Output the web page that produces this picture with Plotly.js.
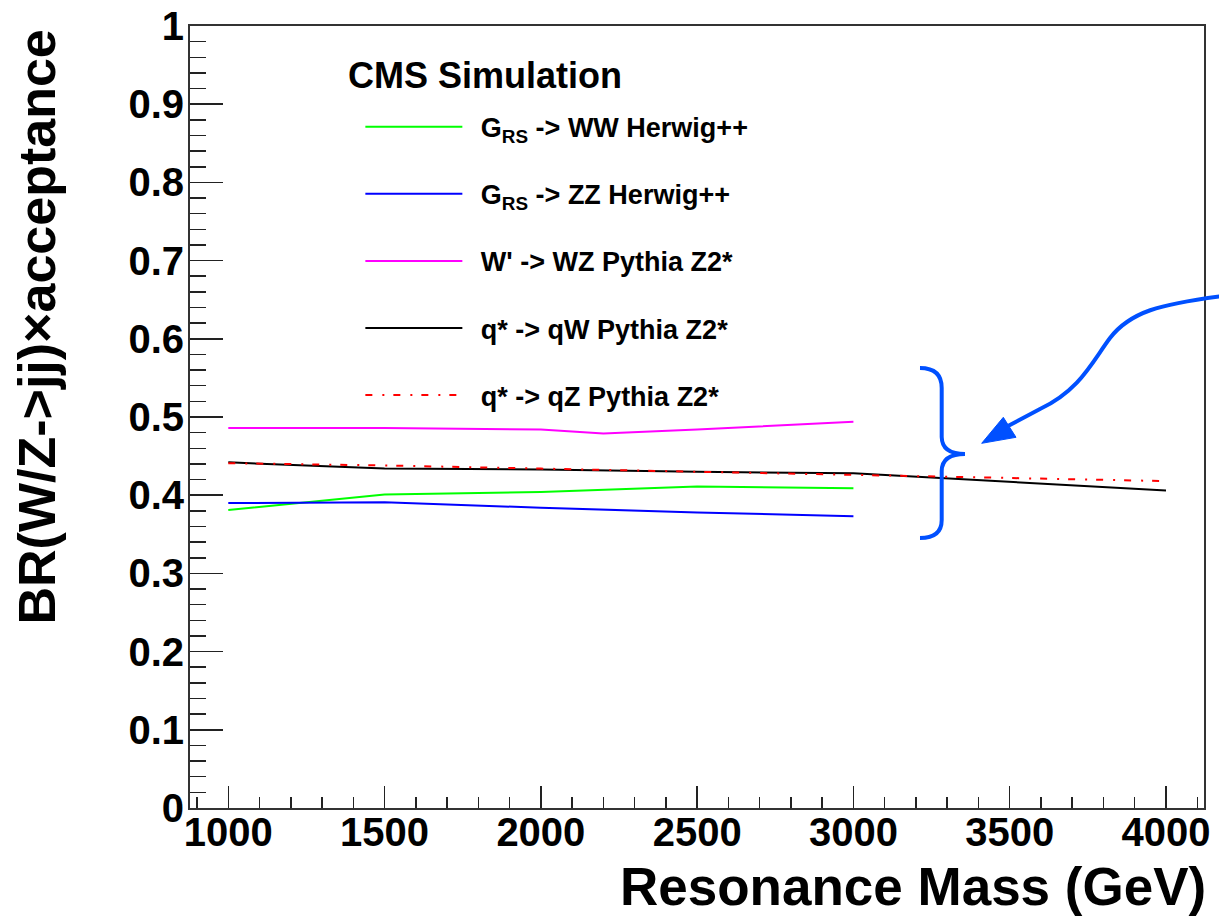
<!DOCTYPE html>
<html>
<head>
<meta charset="utf-8">
<script src="https://cdn.plot.ly/plotly-3.0.1.min.js"></script>
<style>
  html, body { margin: 0; padding: 0; background: #fff; }
  #chart { width: 1219px; height: 921px; }
</style>
</head>
<body>
<div id="chart"></div>
<script>
// Resonance masses (GeV)
const massLow = [1000, 1500, 2000, 2500, 3000];
const massWprime = [1000, 1500, 2000, 2200, 2500, 3000];
const massQstar = [1000, 1500, 2000, 2500, 3000, 4000];

// BR(W/Z->jj) x acceptance for each signal sample
const accGravWW = [0.381, 0.401, 0.404, 0.411, 0.409];
const accGravZZ = [0.390, 0.391, 0.384, 0.378, 0.373];
const accWprimeWZ = [0.486, 0.486, 0.484, 0.479, 0.484, 0.494];
const accQstarQW = [0.442, 0.434, 0.433, 0.430, 0.428, 0.406];
const accQstarQZ = [0.441, 0.438, 0.434, 0.430, 0.426, 0.418];

// Legend labels (leading en space separates the text from the line sample)
const labelGravWW = '\u2002G<sub>RS</sub> -&gt; WW Herwig++';
const labelGravZZ = '\u2002G<sub>RS</sub> -&gt; ZZ Herwig++';
const labelWprime = "\u2002W' -&gt; WZ Pythia Z2*";
const labelQstarQW = '\u2002q* -&gt; qW Pythia Z2*';
const labelQstarQZ = '\u2002q* -&gt; qZ Pythia Z2*';

const FONT = 'Liberation Sans, Arial, Helvetica, sans-serif';

function series(x, y, name, color, dash, group) {
  return {
    type: 'scatter', mode: 'lines', x: x, y: y, name: name,
    legendgroup: group,
    line: { color: color, width: 2, dash: dash || 'solid' },
    hoverinfo: 'x+y+name'
  };
}

const traces = [
  series(massLow, accGravWW, labelGravWW, '#00ff00', null, 'g1'),
  series(massLow, accGravZZ, labelGravZZ, '#0000ff', null, 'g2'),
  series(massWprime, accWprimeWZ, labelWprime, '#ff00ff', null, 'g3'),
  series(massQstar, accQstarQW, labelQstarQW, '#000000', null, 'g4'),
  series(massQstar, accQstarQZ, labelQstarQZ, '#ff0000', '7px,10px,2px,9px', 'g5')
];

// Plot frame in page pixels, used to place the hand-drawn brace and arrow
const frame = { left: 190, right: 1204, top: 26, bottom: 808 };
function px(x) { return ((x - frame.left) / (frame.right - frame.left)).toFixed(5); }
function py(y) { return ((frame.bottom - y) / (frame.bottom - frame.top)).toFixed(5); }
function pt(x, y) { return px(x) + ',' + py(y); }

const braceColor = '#0050ff';
const bracePath =
  'M' + pt(920, 368) +
  ' Q' + pt(941.7, 368) + ' ' + pt(941.7, 388) +
  ' L' + pt(941.7, 437) +
  ' Q' + pt(942, 454) + ' ' + pt(965, 454) +
  ' Q' + pt(942, 454) + ' ' + pt(941.7, 471) +
  ' L' + pt(941.7, 520) +
  ' Q' + pt(941.7, 538) + ' ' + pt(920, 538);

const arrowPath =
  'M' + pt(1222, 296) +
  ' C' + pt(1160, 304) + ' ' + pt(1130, 312) + ' ' + pt(1110, 338) +
  ' C' + pt(1092, 362) + ' ' + pt(1080, 390) + ' ' + pt(1040, 409) +
  ' L' + pt(1008, 426);

const arrowHead =
  'M' + pt(981.7, 443.3) + ' L' + pt(1003.3, 417.3) + ' L' + pt(1016, 437.3) + ' Z';

const tickFont = { family: FONT, size: 40, color: '#000', weight: 'bold' };

const layout = {
  width: 1219, height: 921,
  margin: { l: frame.left, r: 1219 - frame.right, t: frame.top, b: 921 - frame.bottom, pad: 0 },
  paper_bgcolor: '#fff', plot_bgcolor: '#fff',
  font: { family: FONT, color: '#000' },
  showlegend: true,
  legend: {
    x: 0.168, y: 0.902, xanchor: 'left', yanchor: 'top',
    bgcolor: 'rgba(0,0,0,0)', borderwidth: 0,
    font: { family: FONT, size: 27, color: '#000', weight: 'bold' },
    itemwidth: 97, tracegroupgap: 29, traceorder: 'grouped'
  },
  xaxis: {
    range: [877.5, 4121.6],
    tick0: 1000, dtick: 500,
    ticks: 'inside', ticklen: 22, tickwidth: 1.5, tickcolor: '#222',
    minor: { tick0: 1000, dtick: 100, ticks: 'inside', ticklen: 11, tickwidth: 1.5, tickcolor: '#222' },
    showline: true, linecolor: '#333', linewidth: 2, mirror: true,
    showgrid: false, zeroline: false,
    tickfont: tickFont, ticklabelstandoff: -12
  },
  yaxis: {
    range: [0, 1],
    tick0: 0, dtick: 0.1,
    ticks: 'inside', ticklen: 33, tickwidth: 1.5, tickcolor: '#222',
    minor: { tick0: 0, dtick: 0.02, ticks: 'inside', ticklen: 16, tickwidth: 1.5, tickcolor: '#222' },
    showline: true, linecolor: '#333', linewidth: 2, mirror: true,
    showgrid: false, zeroline: false,
    tickfont: tickFont, ticklabelstandoff: -4
  },
  annotations: [
    {
      text: 'CMS Simulation', xref: 'paper', yref: 'paper',
      x: px(346), y: py(75), xanchor: 'left', yanchor: 'middle', showarrow: false,
      font: { family: FONT, size: 36, color: '#000', weight: 'bold' }
    },
    {
      text: 'Resonance Mass (GeV)', xref: 'paper', yref: 'paper',
      x: px(1208), y: py(855), xanchor: 'right', yanchor: 'top', showarrow: false,
      font: { family: FONT, size: 53, color: '#000', weight: 'bold' }
    },
    {
      text: 'BR(W/Z-&gt;jj)×acceptance', xref: 'paper', yref: 'paper', textangle: -90,
      x: px(36), y: py(28), xanchor: 'center', yanchor: 'top', showarrow: false,
      font: { family: FONT, size: 52, color: '#000', weight: 'bold' }
    }
  ],
  shapes: [
    { type: 'path', xref: 'paper', yref: 'paper', path: bracePath,
      line: { color: braceColor, width: 4 }, fillcolor: 'rgba(0,0,0,0)' },
    { type: 'path', xref: 'paper', yref: 'paper', path: arrowPath,
      line: { color: braceColor, width: 4 }, fillcolor: 'rgba(0,0,0,0)' },
    { type: 'path', xref: 'paper', yref: 'paper', path: arrowHead,
      line: { color: braceColor, width: 1 }, fillcolor: braceColor }
  ]
};

Plotly.newPlot('chart', traces, layout, { displayModeBar: false, staticPlot: true });
</script>
</body>
</html>
